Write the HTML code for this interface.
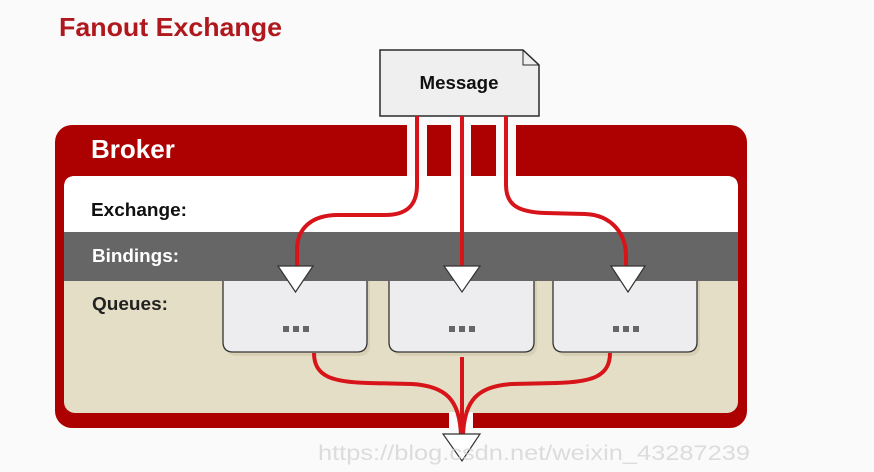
<!DOCTYPE html>
<html><head><meta charset="utf-8"><style>
html,body{margin:0;padding:0;background:#fafafa;}
svg{display:block;}
</style></head><body>
<svg width="874" height="472" viewBox="0 0 874 472" xmlns="http://www.w3.org/2000/svg" font-family="'Liberation Sans', Arial, sans-serif">
<rect x="0" y="0" width="874" height="472" fill="#fafafa"/>
<text x="59" y="36" font-size="26" font-weight="bold" fill="#b0181d" textLength="223" lengthAdjust="spacingAndGlyphs">Fanout Exchange</text>

<!-- Broker outer -->
<rect x="55" y="125" width="692" height="303" rx="17" ry="17" fill="#ad0000"/>
<!-- header gaps -->
<rect x="407" y="124" width="20" height="53" fill="#fafafa"/>
<rect x="451" y="124" width="20" height="53" fill="#fafafa"/>
<rect x="496" y="124" width="20" height="53" fill="#fafafa"/>
<!-- inner area -->
<rect x="64" y="176" width="674" height="237" rx="11" ry="11" fill="#e5dec6"/>
<path d="M64,232 L64,187 Q64,176 75,176 L727,176 Q738,176 738,187 L738,232 Z" fill="#ffffff"/>
<rect x="64" y="232" width="674" height="49" fill="#666666"/>
<!-- bottom gap -->
<rect x="449" y="412" width="24" height="17" fill="#fafafa"/>

<text x="91" y="158" font-size="26" font-weight="bold" fill="#ffffff">Broker</text>
<text x="91" y="216" font-size="18" font-weight="bold" fill="#111" textLength="96" lengthAdjust="spacingAndGlyphs">Exchange:</text>
<text x="92" y="262" font-size="18" font-weight="bold" fill="#ffffff" textLength="87" lengthAdjust="spacingAndGlyphs">Bindings:</text>
<text x="92" y="310" font-size="18" font-weight="bold" fill="#222" textLength="76" lengthAdjust="spacingAndGlyphs">Queues:</text>

<!-- queue boxes shadows -->
<g fill="#d8d0b4">
<path d="M226,281 L370,281 L370,345 Q370,356 359,356 L237,356 Q226,356 226,345 Z"/>
<path d="M392,281 L537,281 L537,345 Q537,356 526,356 L403,356 Q392,356 392,345 Z"/>
<path d="M556,281 L700,281 L700,345 Q700,356 689,356 L567,356 Q556,356 556,345 Z"/>
</g>
<!-- queue boxes -->
<g fill="#ededef" stroke="#333" stroke-width="1.3">
<path d="M223,281 L223,342 Q223,352 233,352 L357,352 Q367,352 367,342 L367,281"/>
<path d="M389,281 L389,342 Q389,352 399,352 L524,352 Q534,352 534,342 L534,281"/>
<path d="M553,281 L553,342 Q553,352 563,352 L687,352 Q697,352 697,342 L697,281"/>
</g>
<g fill="#666">
<rect x="283" y="326" width="6" height="6"/><rect x="293" y="326" width="6" height="6"/><rect x="303" y="326" width="6" height="6"/>
<rect x="449" y="326" width="6" height="6"/><rect x="459" y="326" width="6" height="6"/><rect x="469" y="326" width="6" height="6"/>
<rect x="613" y="326" width="6" height="6"/><rect x="623" y="326" width="6" height="6"/><rect x="633" y="326" width="6" height="6"/>
</g>

<!-- Message -->
<path d="M380,50 L523,50 L539,65 L539,116 L380,116 Z" fill="#efeff0" stroke="#2a2a2a" stroke-width="1.5"/>
<path d="M523,50 L523,65 L539,65" fill="none" stroke="#2a2a2a" stroke-width="1"/>
<text x="459" y="89" font-size="18" font-weight="bold" fill="#111" text-anchor="middle" textLength="79" lengthAdjust="spacingAndGlyphs">Message</text>

<!-- red lines -->
<g fill="none" stroke="#d7141a" stroke-width="4">
<path d="M417,116 L417,185 C417,207 405,215 385,215 L338,215 C312,215 297,228 297,250 L297,268"/>
<path d="M462,116 L462,268"/>
<path d="M506,116 L506,185 C506,205 518,212 545,213 L585,214 C612,215 626,234 626,256 L626,268"/>
<path d="M314,353 C314,377 333,382 368,383 L412,384 C446,386 460,400 461,436"/>
<path d="M610,353 C610,377 591,382 556,383 L512,384 C478,386 464,400 463,436"/>
<path d="M462,357 L462,436"/>
</g>

<!-- triangles -->
<g fill="#ffffff" stroke="#333" stroke-width="1.2" stroke-linejoin="miter">
<path d="M278,266 L313,266 L295.5,292 Z"/>
<path d="M444,266 L480,266 L462,292 Z"/>
<path d="M611,266 L645,266 L628,292 Z"/>
<path d="M443,434 L480,434 L462,461 Z"/>
</g>

<text x="318" y="460" font-size="21" fill="#cfcfcf" fill-opacity="0.7" textLength="432" lengthAdjust="spacingAndGlyphs">https://blog.csdn.net/weixin_43287239</text>
</svg>
</body></html>
